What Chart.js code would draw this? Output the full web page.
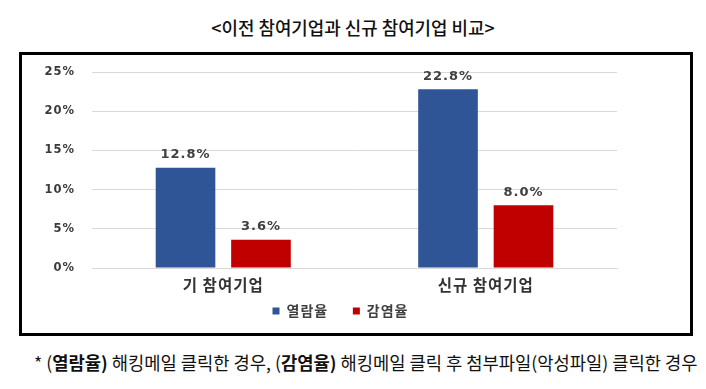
<!DOCTYPE html>
<html><head><meta charset="utf-8">
<script src="https://cdn.jsdelivr.net/npm/chart.js@4/dist/chart.umd.min.js"></script>
<style>
html,body{margin:0;padding:0;background:#fff;width:706px;height:389px;overflow:hidden;font-family:"Noto Sans CJK KR","Noto Sans",sans-serif;}
#title{position:absolute;left:0;width:706px;top:14px;text-align:center;font-size:17.9px;font-weight:500;color:#111;}
#box{position:absolute;left:19px;top:52px;width:668px;height:278px;border:3px solid #000;}
#wrap{position:absolute;left:0;top:0;width:668px;height:278px;}
#note{position:absolute;left:34px;top:349px;font-size:17.7px;color:#111;white-space:nowrap;}
#note b{font-weight:700;}
</style></head>
<body>
<div id="title">&lt;이전 참여기업과 신규 참여기업 비교&gt;</div>
<div id="box"><div id="wrap"><canvas id="c"></canvas></div></div>
<div id="note">* (<b>열람율)</b> 해킹메일 클릭한 경우, (<b>감염율)</b> 해킹메일 클릭 후 첨부파일(악성파일) 클릭한 경우</div>
<script>
const categories = ["기 참여기업", "신규 참여기업"];
const openRate = [12.8, 22.8];
const infectRate = [3.6, 8.0];
const seriesNames = ["열람율", "감염율"];
const yTicks = [0, 5, 10, 15, 20, 25];

const spacingPlugin = {
  id: 'spacing',
  beforeLayout(chart) { chart.ctx.letterSpacing = '1px'; },
  afterLayout(chart) {
    if (chart.legend) { chart.legend.left += 11; chart.legend.right += 11; }
  },
  beforeDraw(chart) { chart.ctx.letterSpacing = '1px'; }
};

const labelPlugin = {
  id: 'valLabels',
  afterDatasetsDraw(chart) {
    const ctx = chart.ctx;
    ctx.save();
    ctx.font = 'bold 13px "DejaVu Sans", sans-serif';
    ctx.fillStyle = '#404040';
    ctx.textAlign = 'center';
    ctx.textBaseline = 'middle';
    chart.data.datasets.forEach((ds, i) => {
      chart.getDatasetMeta(i).data.forEach((bar, j) => {
        ctx.fillText(ds.data[j].toFixed(1) + '%', bar.x, bar.y - 13);
      });
    });
    ctx.restore();
  }
};

new Chart(document.getElementById('c'), {
  type: 'bar',
  data: {
    labels: categories,
    datasets: [
      { label: seriesNames[0], data: openRate, backgroundColor: '#2F5597', barPercentage: 0.79, categoryPercentage: 0.575 },
      { label: seriesNames[1], data: infectRate, backgroundColor: '#C00000', barPercentage: 0.79, categoryPercentage: 0.575 }
    ]
  },
  options: {
    responsive: true,
    maintainAspectRatio: false,
    animation: false,
    layout: { padding: { top: 17, right: 73, left: 20, bottom: 5 } },
    plugins: {
      legend: {
        position: 'bottom',
        labels: {
          usePointStyle: true, pointStyle: 'rect', boxWidth: 7, boxHeight: 7,
          padding: 8,
          font: { size: 14, weight: 'bold', family: '"Noto Sans CJK KR", sans-serif' },
          color: '#404040',
          generateLabels(chart) {
            const items = Chart.defaults.plugins.legend.labels.generateLabels(chart);
            items.forEach((it, i) => { if (i < items.length - 1) it.text += '    '; });
            return items;
          }
        }
      },
      tooltip: { enabled: false }
    },
    scales: {
      x: {
        grid: { display: false, drawTicks: false },
        border: { display: true, color: '#d9d9d9' },
        ticks: { font: { size: 15.5, weight: 'bold', family: '"Noto Sans CJK KR", sans-serif' }, color: '#333', padding: 8 },
        afterFit(s) { s.height = 28; }
      },
      y: {
        min: 0, max: 25,
        afterBuildTicks(s) { s.ticks = yTicks.map(v => ({ value: v })); },
        grid: { color: '#d9d9d9', drawTicks: false },
        border: { display: false },
        ticks: {
          callback: v => v + '%',
          font: { size: 11.5, weight: 'bold', family: '"DejaVu Sans", sans-serif' },
          color: '#3a3a3a', padding: 17
        },
        afterFit(s) { s.width = 50; s.paddingTop = 0; s.paddingBottom = 0; }
      }
    }
  },
  plugins: [spacingPlugin, labelPlugin]
});
</script>
</body></html>
